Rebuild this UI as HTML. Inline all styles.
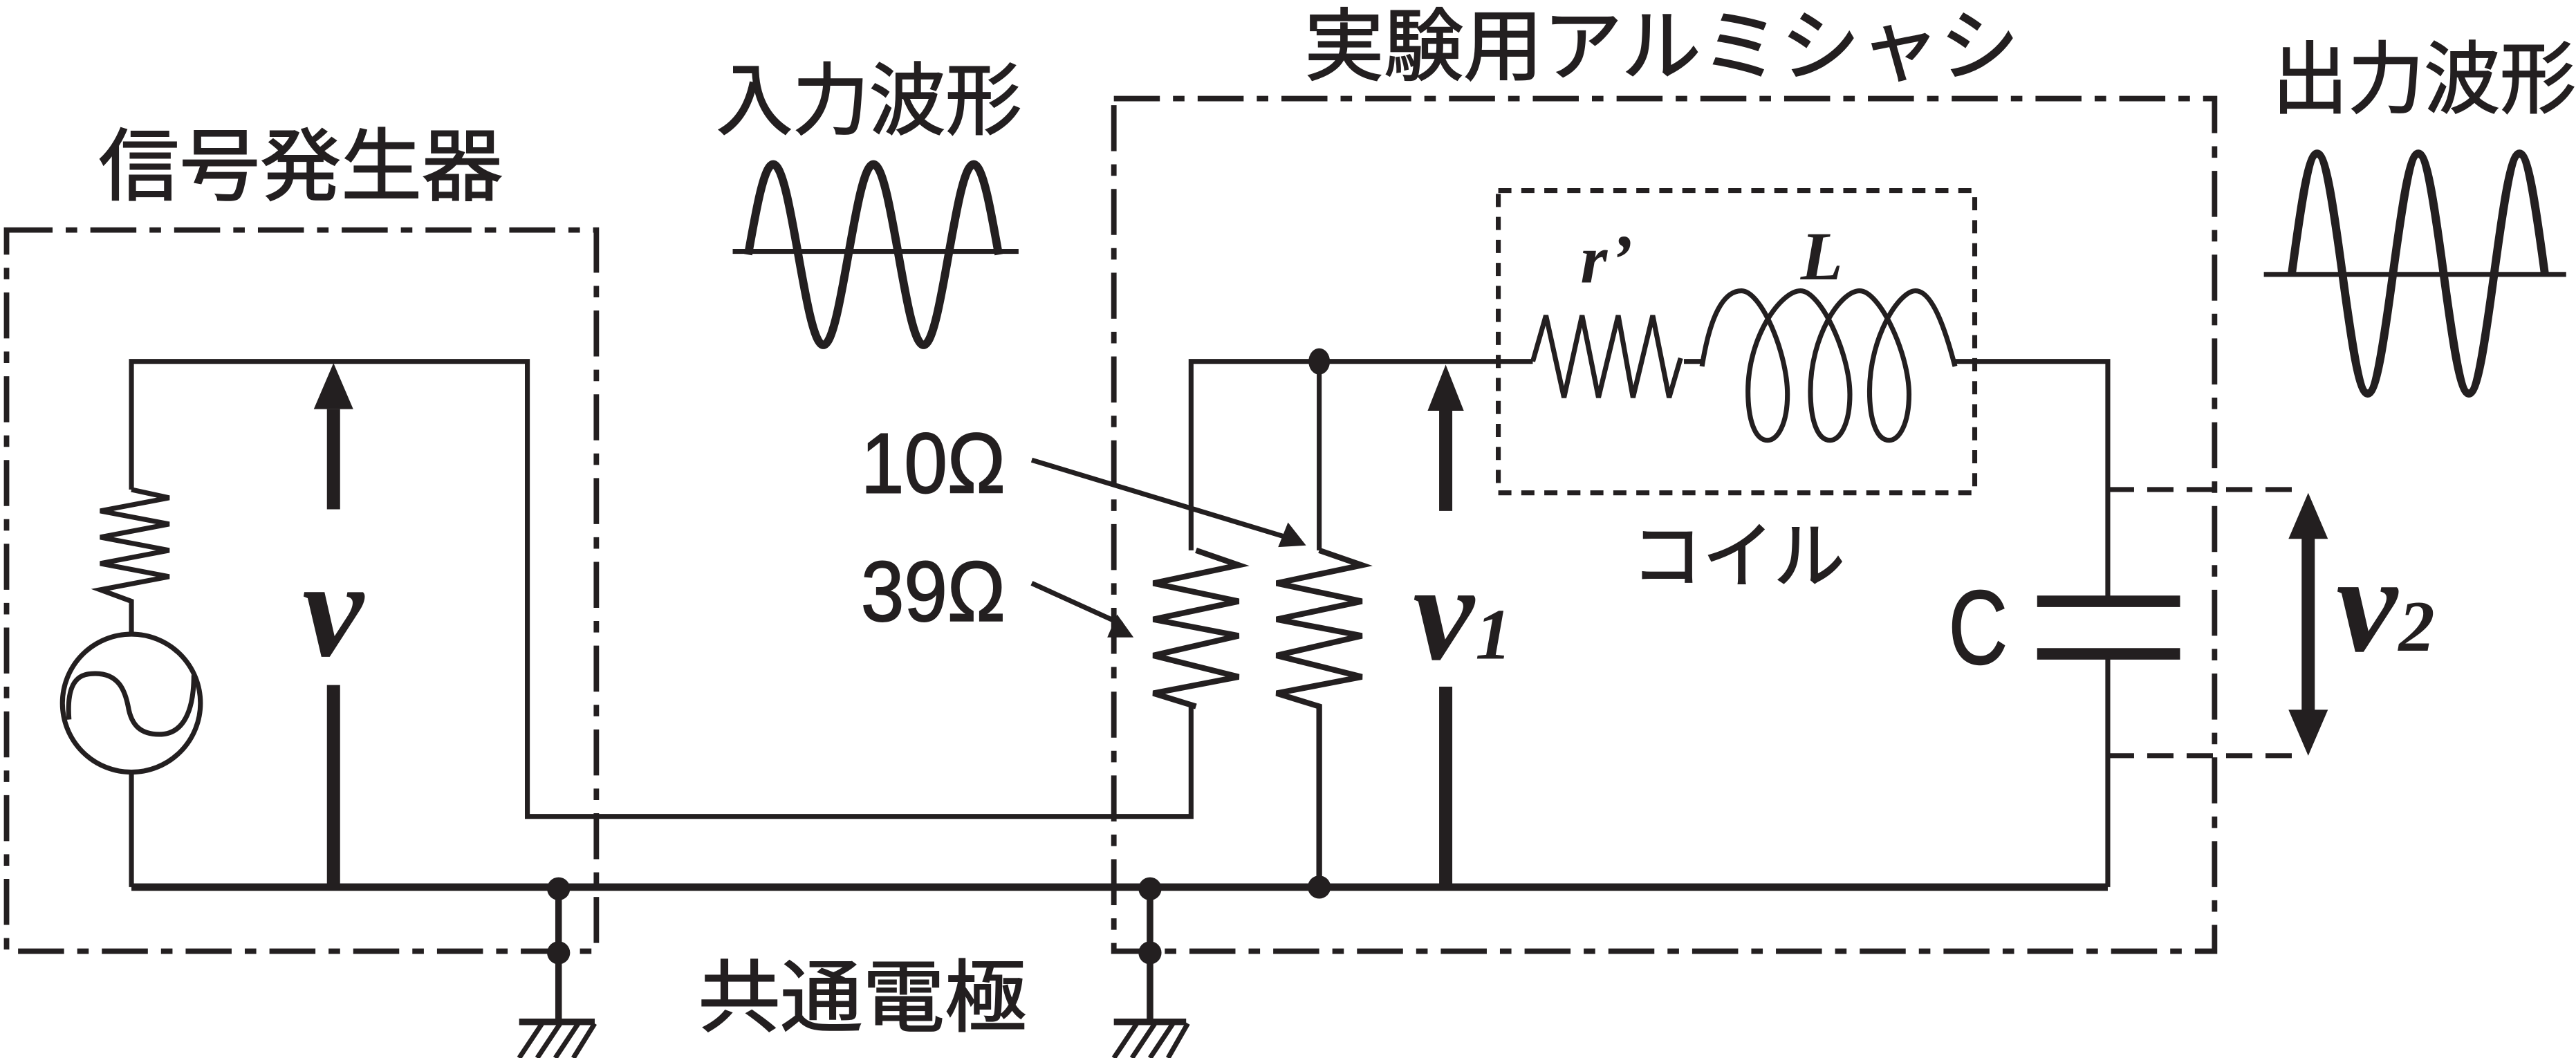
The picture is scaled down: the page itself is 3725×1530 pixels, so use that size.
<!DOCTYPE html>
<html><head><meta charset="utf-8"><style>
html,body{margin:0;padding:0;background:#fff;}
svg{display:block;}
.j{font-family:"Liberation Sans","Noto Sans CJK JP",sans-serif;fill:#231f20;stroke:#231f20;stroke-width:0.8;}
.m{font-family:"Liberation Serif",serif;font-style:italic;font-weight:bold;fill:#231f20;}
</style></head><body>
<svg width="3725" height="1530" viewBox="0 0 1568 644" xmlns="http://www.w3.org/2000/svg">
<rect width="1568" height="644" fill="#fff"/>
<g fill="none" stroke="#231f20" stroke-linecap="butt" stroke-linejoin="miter">
<path d="M4,140 H363 V579 H4 Z" stroke-width="3.3" stroke-dasharray="28,8,7,8"/>
<path d="M678,60 H1348 V579 H678 Z" stroke-width="3.3" stroke-dasharray="28,8,7,8"/>
<path d="M912,116 H1202 V300 H912 Z" stroke-width="3" stroke-dasharray="8,6"/>
<path d="M1283,298 H1400 M1283,460 H1400" stroke-width="3" stroke-dasharray="16,8"/>

<path d="M80,298 V220 H321 V497 H725 V430" stroke-width="3"/>
<path d="M80,298 L103,303 L61,311 L103,319 L61,327 L103,335 L61,343 L103,351 L61,359 L80,366 V386" stroke-width="3"/>
<circle cx="80" cy="428" r="42" stroke-width="3"/>
<path d="M42,438 C40,412 50,410 58,410 C72,410 76,420 78,430 C80,442 86,447 97,447 C112,447 118,432 118,411" stroke-width="3"/>
<path d="M80,470 V540" stroke-width="3"/>
<path d="M80,540 H1283" stroke-width="4.5"/>

<path d="M725,335 V220 H933" stroke-width="3"/>
<path d="M728,335 L754,344 L702,355 L754,366 L702,377 L754,387 L702,399 L754,412 L702,422 L728,430" stroke-width="3.5"/>
<path d="M803,220 V335" stroke-width="3"/>
<path d="M803,335 L829,344 L777,355 L829,366 L777,377 L829,387 L777,399 L829,412 L777,422 L803,430 V540" stroke-width="3.5"/>
<path d="M933,220 L941,192 L952,242 L963,192 L973,242 L985,192 L994,242 L1006,192 L1016,242 L1023,218 M1025,220 H1036" stroke-width="3"/>
<path d="M1036,223 C1042,185 1052,177 1060,177 C1072,177 1088,215 1088,240 C1088,258 1082,268 1076,268 C1068,268 1064,255 1064,238 C1064,205 1084,177 1096,177 C1108,177 1126,215 1126,240 C1126,258 1120,268 1114,268 C1106,268 1102,255 1102,238 C1102,205 1120,177 1132,177 C1144,177 1162,215 1162,240 C1162,258 1156,268 1150,268 C1142,268 1138,255 1138,238 C1138,205 1156,177 1166,177 C1176,177 1184,200 1190,223" stroke-width="3"/>
<path d="M1190,220 H1283 V366 M1283,398 V540" stroke-width="3"/>
<path d="M1240,366 H1327 M1240,398 H1327" stroke-width="7"/>

<path d="M203,249 V310 M203,417 V540" stroke-width="8"/>
<path d="M880,250 V311 M880,418 V540" stroke-width="8"/>
<path d="M1405,326 V434" stroke-width="8"/>

<path d="M628,280 L783,327" stroke-width="3"/>
<path d="M628,355 L683,380" stroke-width="3"/>

<path d="M340,540 V622 M700,540 V622" stroke-width="4"/>
<path d="M316,622 H362 M678,622 H722" stroke-width="4"/>
<path d="M330,623 L316,644 M341,623 L327,644 M352,623 L338,644 M362,623 L349,644 M692,623 L678,644 M703,623 L689,644 M714,623 L700,644 M723,623 L711,644" stroke-width="3"/>

<path d="M446,153 H620" stroke-width="3"/>
<path d="M455.4,155 c4.98,-28.2 9.73,-55 15.25,-55 c5.52,0 10.27,26.8 15.25,55 c4.98,28.2 9.73,55 15.25,55 c5.52,0 10.27,-26.8 15.25,-55 c4.98,-28.2 9.73,-55 15.25,-55 c5.52,0 10.27,26.8 15.25,55 c4.98,28.2 9.73,55 15.25,55 c5.52,0 10.27,-26.8 15.25,-55 c4.98,-28.2 9.73,-55 15.25,-55 c5.52,0 10.27,26.8 15.25,55" stroke-width="5"/>
<path d="M1378,167 H1562" stroke-width="3"/>
<path d="M1395,166.5 c5.03,-37.4 9.83,-73 15.4,-73 c5.57,0 10.37,35.6 15.4,73 c5.03,37.4 9.83,73 15.4,73 c5.57,0 10.37,-35.6 15.4,-73 c5.03,-37.4 9.83,-73 15.4,-73 c5.57,0 10.37,35.6 15.4,73 c5.03,37.4 9.83,73 15.4,73 c5.57,0 10.37,-35.6 15.4,-73 c5.03,-37.4 9.83,-73 15.4,-73 c5.57,0 10.37,35.6 15.4,73" stroke-width="5"/>
</g>
<g fill="#231f20">
<circle cx="340" cy="541" r="7"/><circle cx="340" cy="580" r="7"/>
<circle cx="700" cy="541" r="7"/><circle cx="700" cy="580" r="7"/>
<ellipse cx="803" cy="220" rx="6.5" ry="8"/>
<ellipse cx="803" cy="540" rx="7" ry="7"/>
<polygon points="203,221 191,249 215,249"/>
<polygon points="880,222 869,250 891,250"/>
<polygon points="1405,300 1393,328 1417,328"/>
<polygon points="1405,460 1393,432 1417,432"/>
<polygon points="795,332 778,333 784,318"/>
<polygon points="690,388 674,388 680,374"/>
</g>
<text class="j" x="60" y="118" font-size="48" textLength="246" lengthAdjust="spacingAndGlyphs">信号発生器</text>
<text class="j" x="436" y="78" font-size="48" textLength="186" lengthAdjust="spacingAndGlyphs">入力波形</text>
<text class="j" x="794" y="45" font-size="48" textLength="435" lengthAdjust="spacingAndGlyphs">実験用アルミシャシ</text>
<text class="j" x="1383" y="65" font-size="48" textLength="185" lengthAdjust="spacingAndGlyphs">出力波形</text>
<text class="j" x="425" y="624" font-size="48" textLength="200" lengthAdjust="spacingAndGlyphs">共通電極</text>
<text class="j" x="993" y="354" font-size="44" textLength="130" lengthAdjust="spacingAndGlyphs">コイル</text>
<text class="j" x="524" y="300" font-size="52" textLength="88" lengthAdjust="spacingAndGlyphs">10Ω</text>
<text class="j" x="524" y="378" font-size="52" textLength="88" lengthAdjust="spacingAndGlyphs">39Ω</text>
<text class="j" x="1186" y="404" font-size="64" textLength="36" lengthAdjust="spacingAndGlyphs">C</text>
<text class="m" x="184" y="399" font-size="84">v</text>
<text class="m" x="860" y="401" font-size="84">v</text>
<text class="m" x="898" y="401" font-size="44" font-weight="normal">1</text>
<text class="m" x="1422" y="396" font-size="84">v</text>
<text class="m" x="1460" y="396" font-size="44" font-weight="normal">2</text>
<text class="m" x="962" y="172" font-size="42" font-weight="normal">r’</text>
<text class="m" x="1096" y="170" font-size="42">L</text>
</svg>
</body></html>
